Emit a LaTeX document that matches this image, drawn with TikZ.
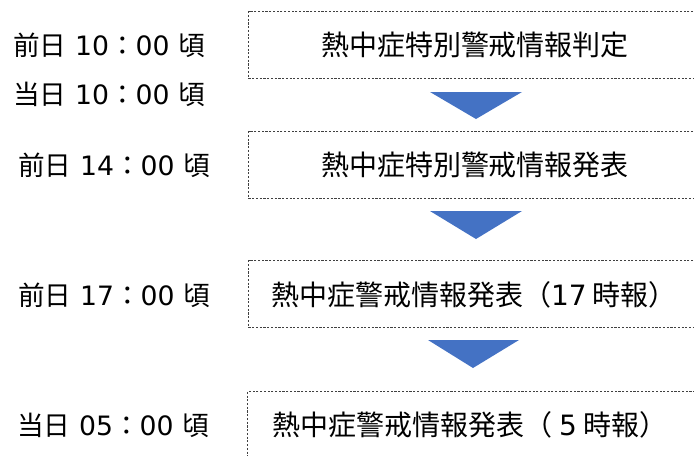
\documentclass[tikz,border=0pt]{standalone}
\usepackage{fontspec}
\setmainfont{Noto Sans CJK JP}
\newfontfamily\latf{DejaVu Sans}
\definecolor{tribl}{HTML}{4472C4}
\definecolor{boxln}{HTML}{404040}
\tikzset{
  flowbox/.style={draw=boxln, line width=0.8pt, dash pattern=on 1.6pt off 1.2pt, inner sep=0pt, anchor=north west},
  boxtext/.style={font=\fontsize{21}{25}\selectfont, inner sep=0pt, anchor=center},
  timelab/.style={font=\fontsize{20}{24}\selectfont, inner sep=0pt, anchor=west},
  downtri/.style={fill=tribl, draw=none}
}
\begin{document}
\begin{tikzpicture}[x=0.75pt, y=-0.75pt]
\useasboundingbox (0,0) rectangle (694,455);
\clip (0,0) rectangle (694,455);
% boxes
\node[flowbox, minimum width=480*0.75pt, minimum height=67*0.75pt] (box1) at (248,11) {};
\node[flowbox, minimum width=480*0.75pt, minimum height=67*0.75pt] (box2) at (248,131) {};
\node[flowbox, minimum width=480*0.75pt, minimum height=67*0.75pt] (box3) at (248,260) {};
\node[flowbox, minimum width=480*0.75pt, minimum height=100*0.75pt] (box4) at (247,391) {};
% box texts
\node[boxtext] (t1) at (475,45) {熱中症特別警戒情報判定};
\node[boxtext] (t2) at (475,165) {熱中症特別警戒情報発表};
\node[boxtext] (t3) at (474,295) {熱中症警戒情報発表（{\latf 17} 時報）};
\node[boxtext] (t4) at (470,425) {熱中症警戒情報発表（ {\latf 5} 時報）};
% triangles
\fill[downtri] (430,92) -- (522,92) -- (476,119) -- cycle;
\fill[downtri] (430,211) -- (522,211) -- (476,239) -- cycle;
\fill[downtri] (428,340) -- (519,340) -- (473,368) -- cycle;
% time labels
\node[timelab] (l1) at (13,45) {前日{\latf\ 10}：{\latf 00\ }頃};
\node[timelab] (l2) at (13,94) {当日{\latf\ 10}：{\latf 00\ }頃};
\node[timelab] (l3) at (18,165) {前日{\latf\ 14}：{\latf 00\ }頃};
\node[timelab] (l4) at (18,295) {前日{\latf\ 17}：{\latf 00\ }頃};
\node[timelab] (l5) at (17,425) {当日{\latf\ 05}：{\latf 00\ }頃};
\end{tikzpicture}
\end{document}
